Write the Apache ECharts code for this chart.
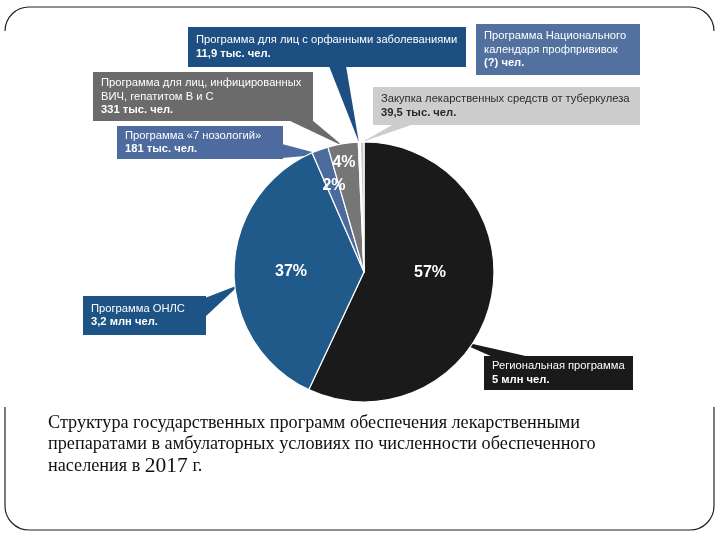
<!DOCTYPE html>
<html><head><meta charset="utf-8">
<script src="https://cdn.jsdelivr.net/npm/echarts@6/dist/echarts.min.js"></script>
<style>html,body{margin:0;padding:0;background:#fff}#c{width:720px;height:540px}</style>
</head><body><div id="c"></div>
<script>
// ---- data ----
const categories = [
  'Региональная программа',
  'Программа ОНЛС',
  'Программа «7 нозологий»',
  'Программа для лиц, инфицированных\nВИЧ, гепатитом В и С',
  'Программа для лиц с орфанными заболеваниями',
  'Программа Национального\nкалендаря профпрививок',
  'Закупка лекарственных средств от туберкулеза'
];
const valueLabels = ['5 млн чел.', '3,2 млн чел.', '181 тыс. чел.', '331 тыс. чел.', '11,9 тыс. чел.', '(?) чел.', '39,5 тыс. чел.'];
const values = [5000, 3200, 181, 331, 11.9, 10, 39.5]; // тыс. чел.
const percentLabels = ['57%', '37%', '2%', '4%', '', '', ''];
const captionLines = [
  'Структура государственных программ обеспечения лекарственными',
  'препаратами в амбулаторных условиях по численности обеспеченного',
  'населения в {y|2017} г.'
];

// ---- styles / layout ----
const sliceColors = ['#1b1a1b', '#1f5a8b', '#4c6b9d', '#767676', '#1e4f82', '#52719f', '#c9c9c9'];
const boxColors   = ['#1a1a1a', '#1d5485', '#4d6b9e', '#6b6b6b', '#1e4f82', '#52719f', '#cdcdcd'];
const textColors  = ['#fff', '#fff', '#fff', '#fff', '#fff', '#fff', '#2a2a2a'];
const boxes = [
  {x: 484, y: 356, w: 149, h: 34},
  {x: 83,  y: 296, w: 123, h: 39},
  {x: 117, y: 126, w: 166, h: 33},
  {x: 93,  y: 72,  w: 220, h: 49},
  {x: 188, y: 27,  w: 278, h: 40},
  {x: 476, y: 24,  w: 164, h: 51},
  {x: 373, y: 87,  w: 267, h: 38}
];
// tail base points (on box) + tip position inside slice (fraction of angle, fraction of radius)
const tails = [
  {base: [[493, 357], [530, 357]], frac: 0.62, rf: 0.86},
  {base: [[205, 298], [205, 317]], frac: 0.45, rf: 0.96},
  {base: [[282, 144], [282, 158]], frac: 0.5, rf: 0.96},
  {base: [[288, 120], [312, 120]], frac: 0.5, rf: 0.98},
  {base: [[329, 66], [346, 66]], frac: 0.5, rf: 1.0},
  null,
  {base: [[394, 124], [414, 124]], frac: 0.5, rf: 1.0}
];
const pctPos = [[430, 273], [291, 272], [334, 186], [344, 163]];
const LH = 13.5;
const FONT = '"Liberation Sans", Arial, sans-serif';

const chart = echarts.init(document.getElementById('c'));

const data = values.map((v, i) => {
  const nLines = categories[i].split('\n').length + 1;
  const b = boxes[i];
  const padV = (b.h - nLines * LH) / 2;
  return {
    name: categories[i],
    value: v,
    itemStyle: {color: sliceColors[i]},
    label: {
      backgroundColor: boxColors[i],
      padding: [padV, 6, padV, 8],
      width: b.w - 14,
      rich: {
        t: {color: textColors[i], fontSize: 11.2, fontFamily: FONT, lineHeight: LH},
        v: {color: textColors[i], fontSize: 11.2, fontFamily: FONT, lineHeight: LH, fontWeight: 'bold'}
      }
    }
  };
});

const option = {
  backgroundColor: '#fff',
  animation: false,
  title: {
    text: captionLines.join('\n'),
    left: 48, top: 412, padding: 0,
    textStyle: {
      fontFamily: '"Liberation Serif", "Times New Roman", serif',
      fontSize: 18.2, fontWeight: 'normal', color: '#111', lineHeight: 21.8,
      rich: {y: {fontFamily: '"Liberation Serif", serif', fontSize: 21.5, color: '#111', lineHeight: 21.8}}
    }
  },
  graphic: [
    {type: 'rect', z: 0, silent: true, shape: {x: 5, y: 7, width: 709, height: 523, r: 24},
     style: {fill: 'none', stroke: '#222', lineWidth: 1.2}},
    {type: 'rect', z: 0.5, silent: true, shape: {x: 0, y: 31, width: 720, height: 376},
     style: {fill: '#fff'}}
  ],
  series: [
    {
      type: 'pie', z: 2,
      center: [364, 272], radius: 130,
      startAngle: 90, clockwise: true,
      avoidLabelOverlap: false,
      itemStyle: {borderColor: '#fff', borderWidth: 1.2},
      label: {show: true, position: 'outside', formatter: p => {
        const i = p.dataIndex;
        const lines = categories[i].split('\n').map(s => '{t|' + s + '}');
        lines.push('{v|' + valueLabels[i] + '}');
        return lines.join('\n');
      }},
      labelLine: {show: false},
      labelLayout: p => ({x: boxes[p.dataIndex].x, y: boxes[p.dataIndex].y, align: 'left', verticalAlign: 'top'}),
      emphasis: {disabled: true},
      data: data
    },
    {
      type: 'pie', z: 3, silent: true,
      center: [364, 272], radius: 130,
      startAngle: 90, clockwise: true,
      avoidLabelOverlap: false,
      itemStyle: {color: 'rgba(0,0,0,0)', borderWidth: 0},
      label: {show: true, position: 'inside', formatter: p => percentLabels[p.dataIndex],
        color: '#fff', fontSize: 16, fontWeight: 'bold', fontFamily: FONT},
      labelLine: {show: false},
      labelLayout: p => p.dataIndex < pctPos.length ? {x: pctPos[p.dataIndex][0], y: pctPos[p.dataIndex][1], align: 'center', verticalAlign: 'middle'} : {},
      emphasis: {disabled: true},
      data: values.map((v, i) => ({name: categories[i], value: v}))
    }
  ]
};
chart.setOption(option);

// tails computed from library pie layout
const sData = chart.getModel().getSeriesByIndex(0).getData();
const tailGraphics = [];
tails.forEach((t, i) => {
  if (!t) return;
  const L = sData.getItemLayout(i);
  const a = L.startAngle + t.frac * (L.endAngle - L.startAngle);
  const tip = [L.cx + t.rf * L.r * Math.cos(a), L.cy + t.rf * L.r * Math.sin(a)];
  tailGraphics.push({type: 'polygon', z: 1, silent: true,
    shape: {points: [t.base[0], t.base[1], tip]}, style: {fill: boxColors[i]}});
});
chart.setOption({graphic: option.graphic.concat(tailGraphics)});
</script></body></html>
